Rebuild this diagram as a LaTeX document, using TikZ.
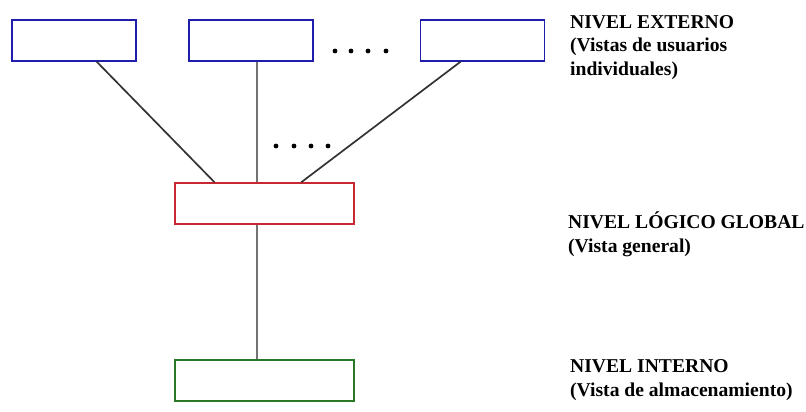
\documentclass[tikz,border=0pt]{standalone}
\usepackage{fontspec}
\setmainfont{Liberation Serif}
\usepackage{tikz}
\usetikzlibrary{positioning}

\tikzset{
  nivelbox/.style={draw, line width=1.4pt, minimum height=41pt, inner sep=0pt},
  extbox/.style={nivelbox, draw={rgb,255:red,30;green,30;blue,170}, minimum width=124pt},
  globbox/.style={nivelbox, draw={rgb,255:red,200;green,40;blue,50}, minimum width=179pt},
  intbox/.style={nivelbox, draw={rgb,255:red,40;green,120;blue,40}, minimum width=179pt},
  nivel/.style={anchor=base west, inner sep=0pt, align=left, font=\fontsize{19.6}{23.5}\selectfont\bfseries},
  enlace/.style={line width=1.7pt, black!80}
}

\begin{document}
\begin{tikzpicture}[x=1pt,y=1pt]
  \useasboundingbox (0,0) rectangle (806,-412);

  % cajas
  \node[extbox] (ext1) at (74,-40.5) {};
  \node[extbox] (ext2) at (251,-40.5) {};
  \node[extbox] (ext3) at (482.5,-40.5) {};
  \node[globbox] (glob) at (264.5,-203.5) {};
  \node[intbox] (int) at (264.5,-380.5) {};
  \coordinate (eje) at (257,0);

  % enlaces
  \draw[enlace] (ext1.-43) -- (glob.157);
  \draw[enlace] (ext3.-136.4) -- (glob.30);
  \draw[enlace, black!55] (ext2.south -| eje) -- (glob.north -| eje);
  \draw[enlace, black!55] (glob.south -| eje) -- (int.north -| eje);

  \foreach \x in {335,351,368,386}
    \fill (\x,-51) circle (2.4pt);
  \foreach \x in {276,294,311,328}
    \fill (\x,-146) circle (2.4pt);

  % niveles
  \node[nivel] (lext) at (570,-75) {NIVEL EXTERNO\\(Vistas de usuarios\\individuales)};
  \node[nivel] (lglob) at (568,-252) {NIVEL LÓGICO GLOBAL\\(Vista general)};
  \node[nivel] (lint) at (570,-396) {NIVEL INTERNO\\(Vista de almacenamiento)};
\end{tikzpicture}
\end{document}
